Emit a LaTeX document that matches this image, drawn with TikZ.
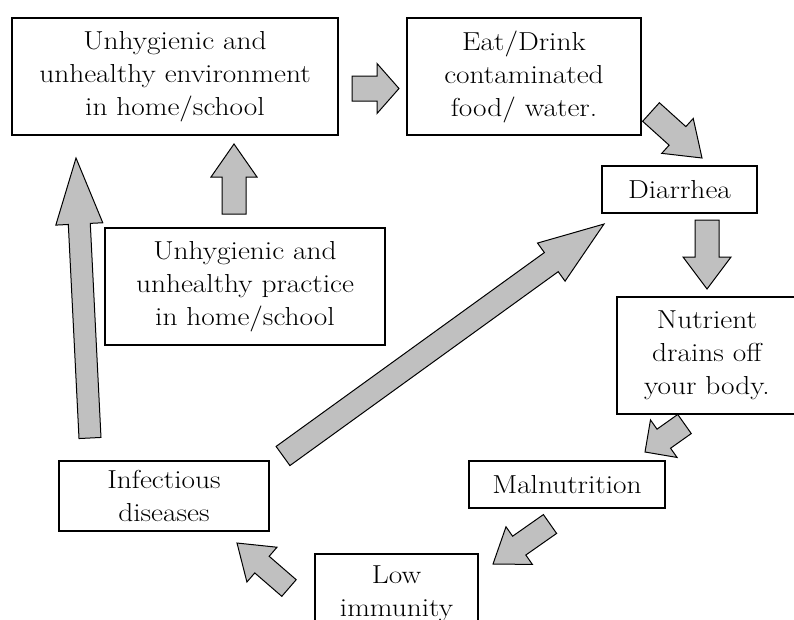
\documentclass[tikz,border=0pt]{standalone}
\usepackage{fontspec}
\setmainfont{Latin Modern Roman}[FakeStretch=1.13]
\usetikzlibrary{calc}
\definecolor{arrowgray}{RGB}{192,192,192}
\tikzset{
  box/.style={draw=black, line width=1.2pt, fill=white, align=center, inner sep=0pt,
    font=\fontsize{26}{33}\selectfont},
  blockarrow/.style={draw=black, line width=1pt, fill=arrowgray, line join=miter},
}
% tail, tip, shaft half width, head half width, head length
\newcommand{\blockarr}[5]{%
  \path[blockarrow] let \p1=(#1), \p2=(#2),
    \n1={atan2(\y2-\y1,\x2-\x1)}, \n2={veclen(\x2-\x1,\y2-\y1)} in
    [shift={(\p1)}, rotate=\n1]
    (0pt,-#3pt) -- (\n2-#5pt,-#3pt) -- (\n2-#5pt,-#4pt) -- (\n2,0pt)
    -- (\n2-#5pt,#4pt) -- (\n2-#5pt,#3pt) -- (0pt,#3pt) -- cycle;%
}
\begin{document}
\begin{tikzpicture}[x=1pt,y=-1pt]
\useasboundingbox (0,0) rectangle (794,619);
\clip (0,0) rectangle (794,619);
% boxes
\node[box, minimum width=326pt, minimum height=117pt] (env) at (175,76.5)
  {Unhygienic and\\unhealthy environment\\in home/school};
\node[box, minimum width=234pt, minimum height=117pt] (eat) at (524,76.5)
  {Eat/Drink\\contaminated\\food/ water.};
\node[box, minimum width=155pt, minimum height=47pt] (dia) at (679.5,189.5)
  {Diarrhea};
\node[box, minimum width=280pt, minimum height=117pt] (prac) at (245,286.5)
  {Unhygienic and\\unhealthy practice\\in home/school};
\node[box, minimum width=180pt, minimum height=117pt] (nut) at (707,355.5)
  {Nutrient\\drains off\\your body.};
\node[box, minimum width=196pt, minimum height=47pt] (mal) at (567,484.5)
  {Malnutrition};
\node[box, minimum width=163pt, minimum height=80pt] (low) at (396.5,594)
  {Low\\immunity};
\node[box, minimum width=210pt, minimum height=70pt] (inf) at (164,496)
  {Infectious\\diseases};
% arrow end points
\coordinate (a1s) at (352,88.5);  \coordinate (a1e) at (399,88.5);
\coordinate (a2s) at (234,214);   \coordinate (a2e) at (234,144);
\coordinate (a3s) at (90,438);    \coordinate (a3e) at (76,158);
\coordinate (a4s) at (651,112);   \coordinate (a4e) at (702,158);
\coordinate (a5s) at (707,220);   \coordinate (a5e) at (707,289);
\coordinate (a6s) at (283,456);   \coordinate (a6e) at (604,224);
\coordinate (a7s) at (684.5,424); \coordinate (a7e) at (645,452);
\coordinate (a8s) at (550,524);   \coordinate (a8e) at (493,564);
\coordinate (a9s) at (289,588);   \coordinate (a9e) at (237,543);
% block arrows
\blockarr{a1s}{a1e}{12.5}{25}{22}
\blockarr{a2s}{a2e}{12}{23}{33}
\blockarr{a3s}{a3e}{11}{23.5}{66}
\blockarr{a4s}{a4e}{12.5}{23.5}{33}
\blockarr{a5s}{a5e}{12}{24}{32}
\blockarr{a6s}{a6e}{11.8}{23.5}{65}
\blockarr{a7s}{a7e}{11.7}{23}{23}
\blockarr{a8s}{a8e}{11.5}{23}{32}
\blockarr{a9s}{a9e}{11}{23}{33}
\end{tikzpicture}
\end{document}
